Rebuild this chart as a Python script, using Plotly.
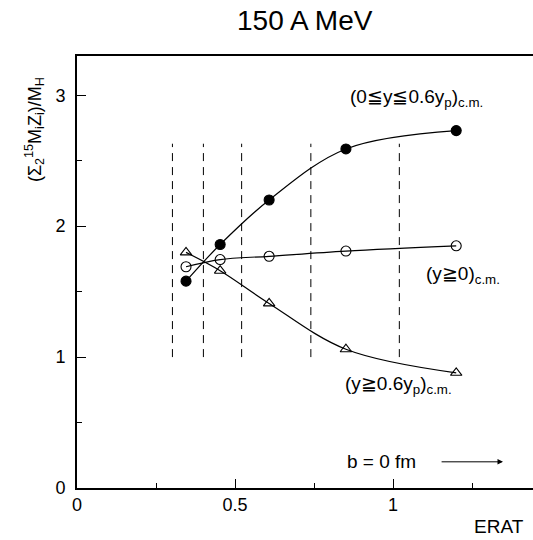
import plotly.graph_objects as go

# ERAT bins and the mass-weighted charge ratio for three rapidity windows
erat = [0.345, 0.453, 0.608, 0.851, 1.200]
mid_rapidity = [1.58, 1.86, 2.20, 2.59, 2.73]     # 0 <= y <= 0.6 y_p
forward_all = [1.69, 1.745, 1.77, 1.81, 1.85]     # y >= 0
projectile_like = [1.80, 1.66, 1.41, 1.06, 0.88]  # y >= 0.6 y_p

# ERAT cut values (dashed markers of the impact-parameter bins)
cut_erat = [0.302, 0.400, 0.521, 0.740, 1.020]
cut_low, cut_high = 1.0, 2.63

x_ticks = [0, 0.5, 1]
x_tick_text = ["0", "0.5", "1"]
y_ticks = [0, 1, 2, 3]
y_tick_text = ["0", "1", "2", "3"]

FONT = "Liberation Sans, Arial, sans-serif"

fig = go.Figure()

series = [
    (mid_rapidity, "circle"),
    (forward_all, "circle-open"),
    (projectile_like, "triangle-up-open"),
]
for vals, sym in series:
    fig.add_trace(go.Scatter(
        x=erat, y=vals, mode="lines+markers",
        line=dict(color="black", width=1.2, shape="spline", smoothing=1.0),
        marker=dict(symbol=sym, size=10, color="black",
                    line=dict(color="black", width=1.1)),
        showlegend=False, hoverinfo="skip",
    ))

for xc in cut_erat:
    fig.add_shape(type="line", xref="x", yref="y", x0=xc, x1=xc,
                  y0=cut_low, y1=cut_high,
                  line=dict(color="black", width=1, dash="8px,6px"))

labels = [
    dict(x=1.073, y=2.98, text="(0≦y≦0.6y<sub>p</sub>)<sub>c.m.</sub>"),
    dict(x=1.222, y=1.63, text="(y≧0)<sub>c.m.</sub>"),
    dict(x=1.016, y=0.79, text="(y≧0.6y<sub>p</sub>)<sub>c.m.</sub>"),
    dict(x=0.962, y=0.20, text="b = 0 fm"),
]
for a in labels:
    fig.add_annotation(x=a["x"], y=a["y"], xref="x", yref="y", text=a["text"],
                       xanchor="center", yanchor="middle", showarrow=False,
                       font=dict(family=FONT, size=19, color="black"))

# arrow pointing toward central collisions
fig.add_annotation(x=1.348, y=0.20, ax=1.149, ay=0.20, xref="x", yref="y",
                   axref="x", ayref="y", text="", showarrow=True,
                   arrowhead=2, arrowsize=1.1, arrowwidth=1, arrowcolor="black")

fig.add_annotation(x=0.5, y=1.0, xref="paper", yref="paper",
                   xanchor="center", yanchor="middle", yshift=36,
                   text="150 A MeV", showarrow=False,
                   font=dict(family=FONT, size=28, color="black"))

fig.add_annotation(x=-0.093, y=0.83, xref="paper", yref="paper",
                   xanchor="center", yanchor="middle",
                   text="(Σ<sub>2</sub><sup>15</sup>M<sub>i</sub>Z<sub>i</sub>)/M<sub>H</sub>",
                   textangle=-90, showarrow=False,
                   font=dict(family=FONT, size=18, color="black"))
fig.add_annotation(x=0.925, y=-0.09, xref="paper", yref="paper",
                   xanchor="center", yanchor="middle", text="ERAT",
                   showarrow=False, font=dict(family=FONT, size=19, color="black"))

fig.update_layout(
    width=533, height=540,
    margin=dict(l=77, r=0, t=56, b=52),
    paper_bgcolor="white", plot_bgcolor="white",
    font=dict(family=FONT, size=18, color="black"),
    xaxis=dict(range=[0, 1.443], tickvals=x_ticks, ticktext=x_tick_text,
               ticks="inside", ticklen=9, tickwidth=1, tickcolor="black",
               showline=True, linecolor="black", linewidth=1.6, mirror=True,
               showgrid=False, zeroline=False, ticklabelstandoff=0,
               minor=dict(dtick=0.25, tick0=0, ticks="inside", ticklen=5,
                          tickcolor="black", showgrid=False),
               tickfont=dict(size=18)),
    yaxis=dict(range=[0, 3.3], tickvals=y_ticks, ticktext=y_tick_text,
               ticks="inside", ticklen=9, tickwidth=1, tickcolor="black",
               showline=True, linecolor="black", linewidth=1.6,
               showgrid=False, zeroline=False, ticklabelstandoff=6,
               minor=dict(dtick=0.5, tick0=0, ticks="inside", ticklen=5,
                          tickcolor="black", showgrid=False),
               tickfont=dict(size=18)),
)

fig.write_html("out.html")
